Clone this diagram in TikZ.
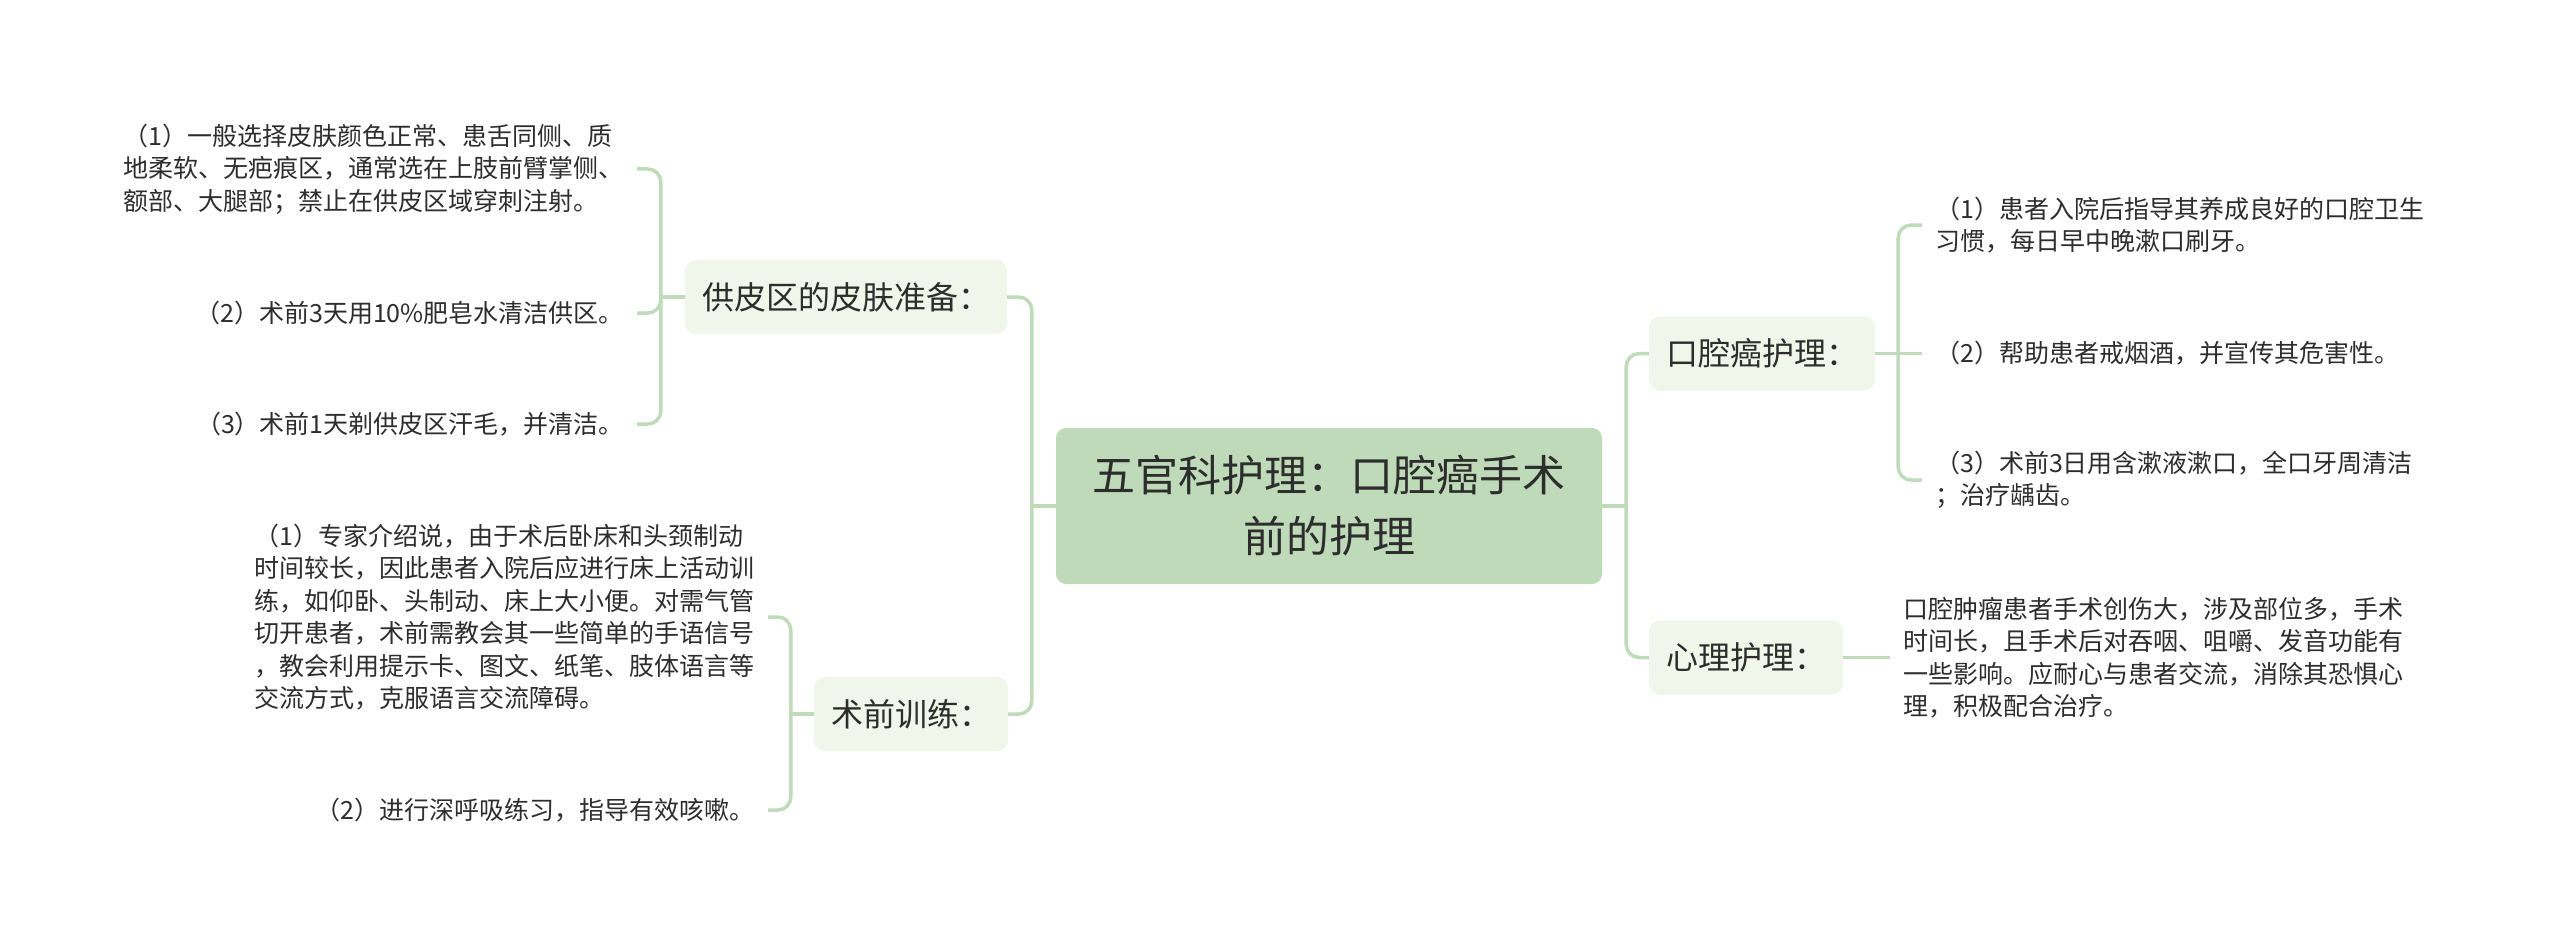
\documentclass[tikz,border=0pt]{standalone}
\usepackage{fontspec}
\setmainfont{Noto Sans CJK SC}
\usetikzlibrary{calc}
\definecolor{rootfill}{RGB}{191,218,185}
\definecolor{subfill}{RGB}{240,246,233}
\definecolor{linecol}{RGB}{192,219,186}
\definecolor{txt}{RGB}{45,45,45}
\begin{document}
\begin{tikzpicture}[x=1pt,y=-1pt,
  rootbox/.style={fill=rootfill, rounded corners=10pt, minimum width=546pt, minimum height=156pt, align=center, text=txt, font=\fontsize{43}{61}\selectfont, inner sep=0pt},
  subbox/.style={fill=subfill, rounded corners=11pt, minimum height=74pt, inner xsep=17pt, inner ysep=0pt, text=txt, font=\fontsize{32}{40}\selectfont},
  leaf/.style={align=left, inner xsep=13pt, inner ysep=0pt, text=txt, font=\fontsize{25}{32.5}\selectfont},
  conn/.style={draw=linecol, line width=3.5pt, rounded corners=13pt}
]
\useasboundingbox (0,0) rectangle (2560,947);
\fill[white] (0,0) rectangle (2560,947);

% root
\node[rootbox] (root) at (1329,506) {五官科护理：口腔癌手术\\前的护理};

% level 1
\node[subbox] (gp) at (846,297) {供皮区的皮肤准备：};
\node[subbox] (sq) at (911,714) {术前训练：};
\node[subbox] (kq) at (1762,353.5) {口腔癌护理：};
\node[subbox] (xl) at (1746,657.5) {心理护理：};

% leaves left
\node[leaf, anchor=east] (g1) at (637,169) {（1）一般选择皮肤颜色正常、患舌同侧、质\\地柔软、无疤痕区，通常选在上肢前臂掌侧、\\额部、大腿部；禁止在供皮区域穿刺注射。};
\node[leaf, anchor=east] (g2) at (637,313) {（2）术前3天用10\%肥皂水清洁供区。};
\node[leaf, anchor=east] (g3) at (637,424) {（3）术前1天剃供皮区汗毛，并清洁。};
\node[leaf, anchor=east] (s1) at (768,617) {（1）专家介绍说，由于术后卧床和头颈制动\\时间较长，因此患者入院后应进行床上活动训\\练，如仰卧、头制动、床上大小便。对需气管\\切开患者，术前需教会其一些简单的手语信号\\，教会利用提示卡、图文、纸笔、肢体语言等\\交流方式，克服语言交流障碍。};
\node[leaf, anchor=east] (s2) at (768,810) {（2）进行深呼吸练习，指导有效咳嗽。};

% leaves right
\node[leaf, anchor=west] (k1) at (1922,225) {（1）患者入院后指导其养成良好的口腔卫生\\习惯，每日早中晚漱口刷牙。};
\node[leaf, anchor=west] (k2) at (1922,353.5) {（2）帮助患者戒烟酒，并宣传其危害性。};
\node[leaf, anchor=west] (k3) at (1922,480) {（3）术前3日用含漱液漱口，全口牙周清洁\\；治疗龋齿。};
\node[leaf, anchor=west] (x1) at (1890,657.5) {口腔肿瘤患者手术创伤大，涉及部位多，手术\\时间长，且手术后对吞咽、咀嚼、发音功能有\\一些影响。应耐心与患者交流，消除其恐惧心\\理，积极配合治疗。};

% junctions
\coordinate (jL) at ($(root.west)+(-24,0)$);
\coordinate (jR) at ($(root.east)+(24,0)$);
\coordinate (jgp) at ($(gp.west)+(-24,0)$);
\coordinate (jsq) at ($(sq.west)+(-23,0)$);
\coordinate (jkq) at ($(kq.east)+(23,0)$);

% connectors
\draw[conn] (root.west) -- (jL);
\draw[conn] (jL) |- (gp.east);
\draw[conn] (jL) |- (sq.east);
\draw[conn] (root.east) -- (jR);
\draw[conn] (jR) |- (kq.west);
\draw[conn] (jR) |- (xl.west);

\draw[conn] (gp.west) -- (jgp);
\draw[conn] (jgp) |- (g1.east);
\draw[conn] (jgp) |- (g2.east);
\draw[conn] (jgp) |- (g3.east);

\draw[conn] (sq.west) -- (jsq);
\draw[conn] (jsq) |- (s1.east);
\draw[conn] (jsq) |- (s2.east);

\draw[conn] (kq.east) -- (jkq);
\draw[conn] (jkq) |- (k1.west);
\draw[conn] (jkq) -- (k2.west);
\draw[conn] (jkq) |- (k3.west);

\draw[conn] (xl.east) -- (x1.west);
\end{tikzpicture}
\end{document}
